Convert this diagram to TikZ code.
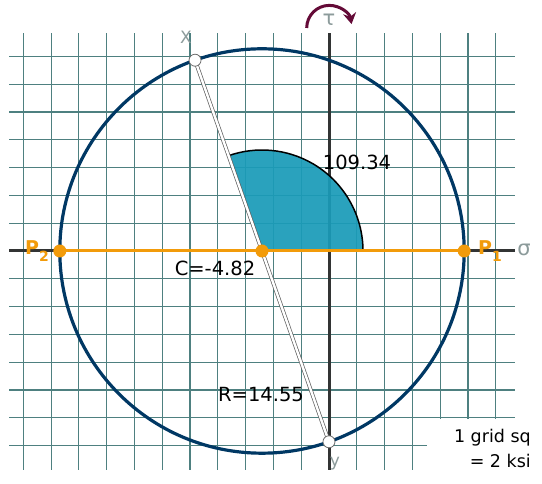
\documentclass[tikz,border=0pt]{standalone}
\usepackage{fontspec}
\setmainfont{DejaVu Sans}
\usetikzlibrary{arrows.meta,calc}
\definecolor{gridc}{RGB}{78,128,128}
\definecolor{navy}{RGB}{0,56,100}
\definecolor{orng}{RGB}{242,155,10}
\definecolor{tealw}{RGB}{26,155,184}
\definecolor{maroonr}{RGB}{100,10,55}
\definecolor{axisc}{RGB}{50,52,52}
\definecolor{ghost}{RGB}{140,155,155}
\begin{document}
\begin{tikzpicture}[x=1pt,y=1pt,
  gridline/.style={gridc, line width=1.2pt},
  axisline/.style={axisc, line width=3pt},
  opt/.style={circle, fill=orng, minimum size=13pt, inner sep=0pt},
  mk/.style={circle, draw=gray!85!black, fill=white, line width=0.8pt, minimum size=12pt, inner sep=0pt},
  lbl/.style={font=\fontsize{19.5}{19.5}\selectfont, text=black, inner sep=0pt},
  plbl/.style={font=\fontsize{19}{19}\selectfont\bfseries, text=orng, inner sep=0pt},
  ghostlbl/.style={text=ghost, inner sep=0pt}]
\useasboundingbox (0,0) rectangle (542,484);
\fill[white] (0,0) rectangle (542,484);
% grid
\foreach \k in {-11,...,6}
  \draw[gridline] ({329+27.79*\k},14) -- ({329+27.79*\k},451);
\foreach \k in {-7,...,7}
  \draw[gridline] (9,{233+27.79*\k}) -- (515,{233+27.79*\k});
\fill[white] (427,-1) rectangle (543,65);
% key points
\coordinate (sl) at (9,233);
\coordinate (sr) at (515,233);
\coordinate (tb) at (329,14);
\coordinate (tt) at (329,451);
\coordinate (C) at (262,233);
\coordinate (P1) at ($(C)+(0:202.2pt)$);
\coordinate (P2) at ($(C)+(180:202.2pt)$);
\coordinate (Xp) at ($(C)+(109.34:202.2pt)$);
\coordinate (Yp) at ($(C)+(-70.66:202.2pt)$);
\coordinate (wR) at ($(C)+(0:101pt)$);
% axes
\draw[axisline] (sl) -- (sr);
\draw[axisline] (tb) -- (tt);
% circle
\draw[navy, line width=3.2pt] (C) circle (202.2pt);
% wedge
\fill[tealw, opacity=0.93] (C) -- (wR) arc[start angle=0, end angle=109.34, radius=101pt] -- cycle;
\draw[black, line width=1.5pt] (wR) arc[start angle=0, end angle=109.34, radius=101pt];
% orange diameter
\draw[orng, line width=3pt] (P2) -- (P1);
% x-y diameter
\draw[gray!75!black, line width=3.8pt] (Xp) -- (Yp);
\draw[white, line width=2.4pt] (Xp) -- (Yp);
% points
\node[opt] (P2n) at (P2) {};
\node[opt] (Cn) at (C) {};
\node[opt] (P1n) at (P1) {};
\node[mk] (Xn) at (Xp) {};
\node[mk] (Yn) at (Yp) {};
% labels
\node[lbl] (angle) at (357,322) {109.34};
\node[lbl] (clbl) at (215,216) {C=-4.82};
\node[lbl] (rlbl) at (261,89) {R=14.55};
\node[font=\fontsize{17.5}{25}\selectfont, align=right, anchor=east, inner sep=0pt] (note) at (531,36) {1 grid sq\\= 2 ksi};
\node[plbl, anchor=base west] (p2l) at (25,229) {P\raisebox{-0.35em}{\fontsize{14}{14}\selectfont 2}};
\node[plbl, anchor=base west] (p1l) at (478,229) {P\raisebox{-0.35em}{\fontsize{14}{14}\selectfont 1}};
\node[ghostlbl, font=\fontsize{21}{21}\selectfont] (sig) at (524,234) {σ};
\node[ghostlbl, font=\fontsize{21}{21}\selectfont] (tau) at (329,464) {τ};
\node[ghostlbl, font=\fontsize{17}{17}\selectfont] (xl) at (186,447) {X};
\node[ghostlbl, font=\fontsize{17}{17}\selectfont] (yl) at (335,20) {y};
% rotation arrow
\coordinate (rotS) at (306.7,456);
\draw[maroonr, line width=3pt, -{Stealth[length=11pt,width=13pt]}] (rotS) arc[start angle=180, end angle=10, radius=22.6pt];
\end{tikzpicture}
\end{document}
